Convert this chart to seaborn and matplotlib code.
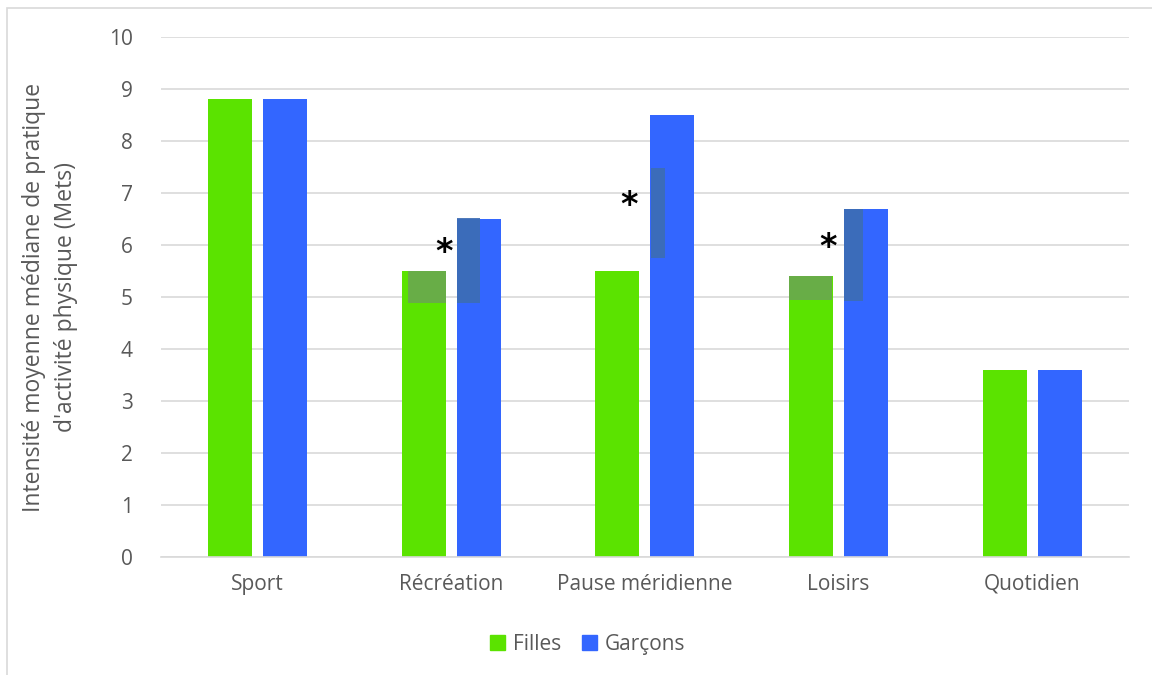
import pandas as pd
import matplotlib.pyplot as plt
import matplotlib.patches as mpatches
import seaborn as sns

# Data
categories = ["Sport", "Récréation", "Pause méridienne", "Loisirs", "Quotidien"]
filles = [8.8, 5.5, 5.5, 5.4, 3.6]
garcons = [8.8, 6.5, 8.5, 6.7, 3.6]
groups = ["Filles", "Garçons"]

# significance markers: (category index, x offset, y value)
stars = [(1, -0.036, 5.86), (2, -0.08, 6.77), (3, -0.052, 5.96)]

# shaded overlay boxes pasted on bars: (category index, x offset, width, bottom, top, colour)
overlays = [
    (1, -0.222, 0.196, 4.88, 5.5, "#6aa84f"),
    (1, 0.031, 0.118, 4.88, 6.52, "#3d6db3"),
    (2, 0.031, 0.072, 5.75, 7.48, "#3d6db3"),
    (3, -0.253, 0.222, 4.94, 5.4, "#6aa84f"),
    (3, 0.026, 0.103, 4.92, 6.69, "#3d6db3"),
]

colors = {"Filles": "#5be300", "Garçons": "#3366ff"}

df = pd.DataFrame({
    "categorie": categories * 2,
    "valeur": filles + garcons,
    "groupe": [groups[0]] * len(categories) + [groups[1]] * len(categories),
})

sns.set_style("white")
plt.rcParams["font.family"] = ["Open Sans", "DejaVu Sans"]

fig = plt.figure(figsize=(11.52, 6.75), dpi=100)
ax = fig.add_axes([0.1395, 0.175, 0.8405, 0.770])

sns.barplot(data=df, x="categorie", y="valeur", hue="groupe", palette=colors,
            width=0.568, gap=0.2, saturation=1, linewidth=0, ax=ax, zorder=2)

for cat, off, w, lo, hi, col in overlays:
    ax.bar(cat + off, hi - lo, width=w, bottom=lo, align="edge", color=col,
           alpha=0.9, linewidth=0, zorder=3)

for cat, off, y in stars:
    ax.text(cat + off, y, "*", ha="center", va="center", fontsize=24,
            fontweight="bold", color="black", family="DejaVu Sans", zorder=4)

ax.set_ylim(0, 10)
ax.set_yticks(range(0, 11))
ax.set_xlim(-0.5, 4.5)
ax.grid(axis="y", color="#d9d9d9", linewidth=1.2, zorder=0)
ax.set_axisbelow(True)
for s in ["top", "right", "left"]:
    ax.spines[s].set_visible(False)
ax.spines["bottom"].set_color("#d9d9d9")
ax.spines["bottom"].set_linewidth(1.2)
ax.tick_params(axis="x", length=0, labelsize=15, colors="#595959", pad=12)
ax.tick_params(axis="y", length=0, labelsize=15, colors="#595959", pad=20)
ax.set_xlabel("")
ax.set_ylabel("Intensité moyenne médiane de pratique\nd'activité physique (Mets)",
              fontsize=16.5, color="#595959", labelpad=22, linespacing=1.45)

handles = [mpatches.Patch(color=colors[g], label=g) for g in groups]
ax.legend(handles=handles, loc="upper center", bbox_to_anchor=(0.441, -0.112),
          ncol=2, frameon=False, fontsize=15, handlelength=0.7, handleheight=0.7,
          columnspacing=1.0, handletextpad=0.4, labelcolor="#595959")

# outer chart border (only left and top edges are visible in the frame)
fig.patches.append(mpatches.Rectangle((0.0065, -0.05), 1.2, 1.038, transform=fig.transFigure,
                                      fill=False, edgecolor="#d9d9d9", linewidth=1.2))

fig.savefig("out.png", dpi=100)
